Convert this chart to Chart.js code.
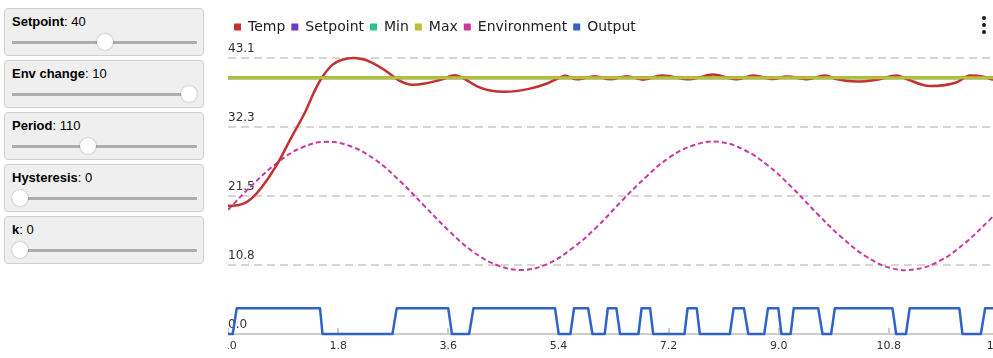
<!DOCTYPE html>
<html>
<head>
<meta charset="utf-8">
<script src="https://cdn.jsdelivr.net/npm/chart.js@4/dist/chart.umd.min.js"></script>
<style>
  html, body { margin:0; padding:0; background:#fff; width:993px; height:358px; overflow:hidden; }
  body { position:relative; font-family:"Liberation Sans", Arial, sans-serif; }
  .ctrl { position:absolute; left:4px; width:200px; height:48px; box-sizing:border-box;
          background:#efefef; border:1px solid #d0d0d0; border-radius:4px; }
  .ctrl .lbl { position:absolute; left:7px; top:5px; font-size:13px; line-height:15px; color:#000; white-space:nowrap; }
  .ctrl input { position:absolute; left:7px; top:25px; width:185px; height:16px; margin:0; padding:0;
                -webkit-appearance:none; appearance:none; background:transparent; }
  .ctrl input::-webkit-slider-runnable-track { height:3px; background:#adadad; border:none; }
  .ctrl input::-webkit-slider-thumb { -webkit-appearance:none; width:16px; height:16px; border-radius:50%;
                background:#fff; margin-top:-6.5px; box-shadow:0 0 2px rgba(0,0,0,0.35); border:none; }
  #wrap { position:absolute; left:228px; top:0; width:771px; height:360px; }
  .menu { position:absolute; left:982px; top:16px; width:4px; }
  .menu i { display:block; width:4px; height:4px; border-radius:50%; background:#1a1a1a; margin-bottom:3px; }
</style>
</head>
<body>
<div class="ctrl" style="top:8px"><div class="lbl"><b>Setpoint</b>: 40</div><input type="range" min="0" max="80" value="40"></div>
<div class="ctrl" style="top:60px"><div class="lbl"><b>Env change</b>: 10</div><input type="range" min="0" max="10" value="10"></div>
<div class="ctrl" style="top:112px"><div class="lbl"><b>Period</b>: 110</div><input type="range" min="10" max="260" value="110"></div>
<div class="ctrl" style="top:164px"><div class="lbl"><b>Hysteresis</b>: 0</div><input type="range" min="0" max="10" value="0"></div>
<div class="ctrl" style="top:216px"><div class="lbl"><b>k</b>: 0</div><input type="range" min="0" max="10" value="0"></div>
<div id="wrap"><canvas id="c" width="771" height="360"></canvas></div>
<div class="menu"><i></i><i></i><i></i></div>
<script>
// ---- data ----
const seriesNames = ['Temp', 'Setpoint', 'Min', 'Max', 'Environment', 'Output'];
const xTickValues = [0, 1.795, 3.590, 5.386, 7.181, 8.976, 10.771, 12.566];
const yTickValues = [0, 10.77, 21.54, 32.31, 43.08];

const tempX = [0, 0.16, 0.28, 0.39, 0.55, 0.77, 1.04, 1.26, 1.42, 1.53, 1.70, 1.86, 2.04, 2.23, 2.45, 2.67, 2.80, 3.00, 3.21, 3.49, 3.70, 3.86, 4.07, 4.27, 4.51, 4.92, 5.20, 5.38, 5.49, 5.69, 5.98, 6.23, 6.50, 6.76, 7.07, 7.53, 7.90, 8.30, 8.56, 8.88, 9.11, 9.44, 9.73, 9.93, 10.25, 10.58, 10.90, 11.07, 11.44, 11.88, 12.09, 12.30, 12.47, 12.566];
const tempY = [20.0, 20.1, 20.45, 21.2, 22.9, 26.0, 30.8, 34.7, 38.1, 40.0, 42.0, 42.8, 43.08, 42.8, 41.8, 40.4, 39.5, 38.9, 39.1, 39.75, 40.4, 39.8, 38.6, 38.0, 37.8, 38.3, 39.1, 39.9, 40.3, 39.75, 40.25, 39.75, 40.25, 39.7, 40.35, 39.75, 40.5, 39.75, 40.35, 39.8, 40.2, 39.75, 40.35, 39.75, 39.4, 39.7, 40.35, 39.75, 38.7, 39.3, 40.35, 40.2, 39.7, 39.5];

const envX = [0, 0.4, 0.8, 1.2, 1.6, 2.0, 2.4, 2.8, 3.2, 3.6, 4.0, 4.4, 4.8, 5.2, 5.6, 6.0, 6.4, 6.8, 7.2, 7.6, 8.0, 8.4, 8.8, 9.2, 9.6, 10.0, 10.4, 10.8, 11.2, 11.6, 12.0, 12.4, 12.566];
const envY = [19.4, 23.3, 26.7, 29.1, 30.0, 29.3, 27.2, 23.9, 20.0, 16.1, 12.8, 10.7, 10.0, 10.9, 13.3, 16.6, 20.6, 24.4, 27.6, 29.5, 30.0, 28.8, 26.3, 22.8, 18.8, 15.1, 12.1, 10.3, 10.1, 11.4, 14.1, 17.7, 19.4];

const levelX = [0, 12.566];
const setpointY = [40, 40];
const minY = [40, 40];
const maxY = [40, 40];

const outX = [0, 0.077, 0.142, 1.50, 1.54, 2.68, 2.75, 3.59, 3.65, 3.93, 4.0, 5.33, 5.39, 5.58, 5.64, 5.87, 5.94, 6.14, 6.19, 6.33, 6.39, 6.69, 6.74, 6.88, 6.93, 7.44, 7.49, 7.64, 7.69, 8.18, 8.24, 8.41, 8.48, 8.74, 8.80, 8.97, 9.02, 9.17, 9.22, 9.62, 9.69, 9.83, 9.89, 10.83, 10.89, 11.05, 11.11, 11.92, 11.97, 12.27, 12.34, 12.566];
const outY = [0, 0, 4, 4, 0, 0, 4, 4, 0, 0, 4, 4, 0, 0, 4, 4, 0, 0, 4, 4, 0, 0, 4, 4, 0, 0, 4, 4, 0, 0, 4, 4, 0, 0, 4, 4, 0, 0, 4, 4, 0, 0, 4, 4, 0, 0, 4, 4, 0, 0, 4, 4];

// ---- chart ----
const zip = (xs, ys) => xs.map((x, i) => ({x: x, y: ys[i]}));
const colors = ['#c43131', '#6a3cc8', '#2ec28e', '#bcbf2f', '#c83a9e', '#2f63c9'];

Chart.defaults.font.family = '"DejaVu Sans", Verdana, sans-serif';

const tickMarks = {
  id: 'tickMarks',
  beforeDatasetsDraw(chart) {
    const s = chart.scales.x, ctx = chart.ctx, b = chart.chartArea.bottom;
    ctx.save();
    ctx.strokeStyle = '#cccccc';
    ctx.lineWidth = 2;
    s.ticks.forEach(t => {
      const px = Math.round(s.getPixelForValue(t.value));
      ctx.beginPath(); ctx.moveTo(px, b); ctx.lineTo(px, b - 6); ctx.stroke();
    });
    ctx.restore();
  }
};

// adds empty room under the legend row
const legendSpace = {
  id: 'legendSpace',
  beforeLayout(chart) {
    const lg = chart.legend;
    if (lg && !lg._spaced) {
      const fit = lg.fit;
      lg.fit = function () { fit.call(this); this.height += 14; };
      lg._spaced = true;
    }
  }
};

new Chart(document.getElementById('c'), {
  type: 'line',
  data: {
    datasets: [
      { label: seriesNames[0], data: zip(tempX, tempY), borderColor: colors[0], backgroundColor: colors[0], borderWidth: 2.5, cubicInterpolationMode: 'monotone', order: 1 },
      { label: seriesNames[1], data: zip(levelX, setpointY), borderColor: colors[1], backgroundColor: colors[1], borderWidth: 3, order: 3 },
      { label: seriesNames[2], data: zip(levelX, minY), borderColor: colors[2], backgroundColor: colors[2], borderWidth: 3, order: 2 },
      { label: seriesNames[3], data: zip(levelX, maxY), borderColor: colors[3], backgroundColor: colors[3], borderWidth: 3, order: 0 },
      { label: seriesNames[4], data: zip(envX, envY), borderColor: colors[4], backgroundColor: colors[4], borderWidth: 2, borderDash: [5, 3], tension: 0.4, order: 4 },
      { label: seriesNames[5], data: zip(outX, outY), borderColor: colors[5], backgroundColor: colors[5], borderWidth: 2.5, order: 5 }
    ]
  },
  options: {
    responsive: false,
    animation: false,
    devicePixelRatio: 1,
    clip: false,
    elements: { point: { radius: 0, hoverRadius: 0 }, line: { fill: false, borderJoinStyle: 'round' } },
    layout: { padding: { top: 14, left: 0, right: 0, bottom: 0.8 } },
    plugins: {
      tooltip: { enabled: false },
      legend: {
        position: 'top', align: 'start',
        labels: {
          boxWidth: 7, boxHeight: 7, padding: 6, color: '#222',
          font: { size: 14 },
          sort: (a, b) => a.datasetIndex - b.datasetIndex,
          generateLabels: (chart) => Chart.defaults.plugins.legend.labels.generateLabels(chart)
            .map(l => Object.assign(l, { lineDash: [], lineWidth: 0, strokeStyle: l.fillStyle }))
        }
      }
    },
    scales: {
      x: {
        type: 'linear', min: 0, max: 12.566,
        afterBuildTicks: s => { s.ticks = xTickValues.map(v => ({ value: v })); },
        afterFit: s => { s.paddingLeft = 0; s.paddingRight = 0; },
        ticks: { callback: v => Number(v).toFixed(1), font: { size: 11 }, color: '#333', padding: 6, maxRotation: 0, autoSkip: false },
        grid: { display: true, drawOnChartArea: false, drawTicks: false },
        border: { display: true, color: '#cccccc', width: 2 }
      },
      y: {
        type: 'linear', min: 0, max: 43.08,
        afterBuildTicks: s => { s.ticks = yTickValues.map(v => ({ value: v })); },
        afterFit: s => { s.paddingTop = 58; s.paddingBottom = 0; },
        ticks: { mirror: true, padding: 0, labelOffset: -9, callback: v => Number(v).toFixed(1), font: { size: 12 }, color: '#333' },
        grid: { color: c => (c.tick && c.tick.value === 0) ? 'rgba(0,0,0,0)' : '#d6d6d6', lineWidth: 2, drawTicks: false },
        border: { display: false, dash: [8, 5] }
      }
    }
  },
  plugins: [tickMarks, legendSpace]
});
</script>
</body>
</html>
